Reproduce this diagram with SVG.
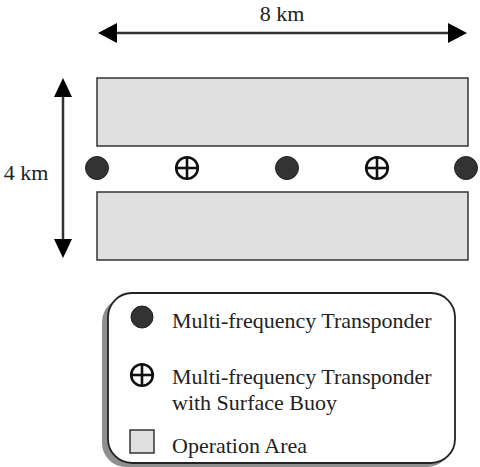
<svg xmlns="http://www.w3.org/2000/svg" width="480" height="467" viewBox="0 0 480 467">
<defs>
<style>
text { font-family: "Liberation Serif", "Times New Roman", serif; font-size: 22px; fill: #222; }
.area { fill: #e0e0e0; stroke: #333; stroke-width: 1.5; }
.dot { fill: #333; stroke: #222; stroke-width: 1; }
.buoy { fill: #fff; stroke: #111; stroke-width: 2.6; }
.dim { stroke: #333; stroke-width: 2.5; fill: none; }
.head { fill: #000; }
</style>
<g id="buoySym">
<circle class="buoy" cx="0" cy="0" r="10.8"/>
<line x1="-10.8" y1="0" x2="10.8" y2="0" stroke="#111" stroke-width="2.6"/>
<line x1="0" y1="-10.8" x2="0" y2="10.8" stroke="#111" stroke-width="2.6"/>
</g>
</defs>
<rect width="480" height="467" fill="#fff"/>

<g id="dim-8km">
<line class="dim" x1="112" y1="33" x2="452" y2="33"/>
<polygon class="head" points="98,33 117,23 117,43"/>
<polygon class="head" points="467,33 448,23 448,43"/>
<text x="282" y="21" text-anchor="middle">8 km</text>
</g>

<g id="dim-4km">
<line class="dim" x1="63" y1="92" x2="63" y2="244"/>
<polygon class="head" points="63,78 54,97 72,97"/>
<polygon class="head" points="63,258 54,239 72,239"/>
<text x="26" y="180" text-anchor="middle">4 km</text>
</g>

<g id="area-top"><rect class="area" x="97" y="78" width="371" height="68"/></g>
<g id="area-bottom"><rect class="area" x="97" y="192" width="371" height="68"/></g>

<g id="t1"><circle class="dot" cx="97" cy="168" r="11.5"/></g>
<g id="b1"><use href="#buoySym" x="187" y="168"/></g>
<g id="t2"><circle class="dot" cx="287" cy="168" r="11.5"/></g>
<g id="b2"><use href="#buoySym" x="377" y="168"/></g>
<g id="t3"><circle class="dot" cx="466" cy="168" r="11.5"/></g>

<g id="legend">
<rect x="102" y="298" width="349" height="169" rx="24" fill="#8f8f8f"/>
<rect x="108" y="293" width="347" height="170" rx="24" fill="#fff" stroke="#222" stroke-width="1.8"/>
<circle class="dot" cx="142" cy="317" r="11"/>
<text x="172" y="328">Multi-frequency Transponder</text>
<use href="#buoySym" x="142" y="375"/>
<text x="172" y="384">Multi-frequency Transponder</text>
<text x="172" y="410">with Surface Buoy</text>
<rect class="area" x="130" y="430" width="24" height="23"/>
<text x="172" y="453">Operation Area</text>
</g>
</svg>
